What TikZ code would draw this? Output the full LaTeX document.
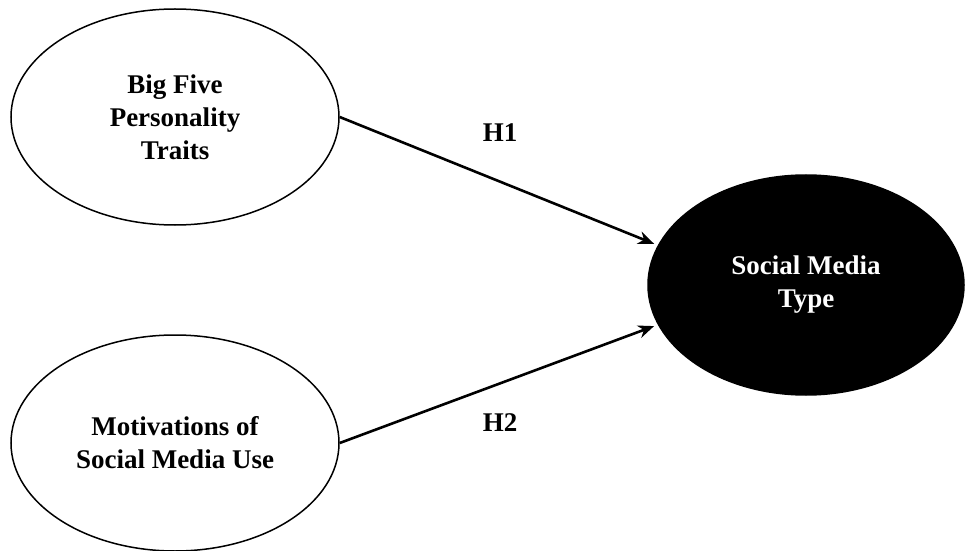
\documentclass[tikz,border=0pt]{standalone}
\usepackage{fontspec}
\setmainfont{Liberation Serif}
\usetikzlibrary{shapes.geometric,arrows.meta}
\begin{document}
\begin{tikzpicture}[x=1pt, y=1pt, every node/.style={font=\bfseries\fontsize{27}{33}\selectfont},
  latent/.style={draw, ellipse, line width=1.5pt, inner sep=0pt, align=center},
  path/.style={-{Stealth[length=16pt, width=13pt]}, line width=2.6pt, shorten >=4pt}]
\useasboundingbox (0,0) rectangle (967,550);
\node[latent, minimum width=328, minimum height=216] (big5) at (175,433) {Big Five\\Personality\\Traits};
\node[latent, minimum width=328, minimum height=216] (motiv) at (175,107) {Motivations of\\Social Media Use};
\node[latent, fill=black, text=white, minimum width=316, minimum height=220] (smtype) at (806,265) {Social Media\\Type};
\draw[path] (big5.east) -- (smtype.165);
\draw[path] (motiv.east) -- (smtype.195);
\node (h1) at (500,417) {H1};
\node (h2) at (500,127) {H2};
\end{tikzpicture}
\end{document}
